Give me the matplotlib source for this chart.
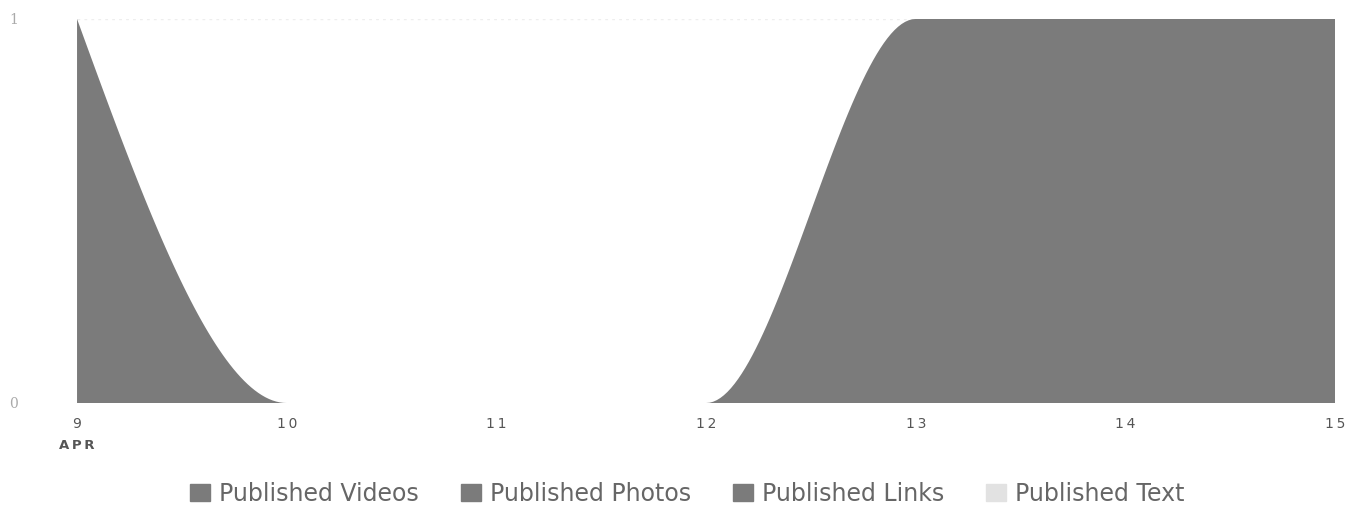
import numpy as np
import matplotlib
matplotlib.use("Agg")
import matplotlib.pyplot as plt
import matplotlib.patches as mpatches

plt.rcParams["font.family"] = ["DejaVu Sans"]

days = [9, 10, 11, 12, 13, 14, 15]
tick_labels = ["9", "10", "11", "12", "13", "14", "15"]
month_label = "APR"
videos = [0, 0, 0, 0, 0, 0, 0]
photos = [0, 0, 0, 0, 0, 0, 0]
links = [1, 0, 0, 0, 1, 1, 1]
text_posts = [0, 0, 0, 0, 0, 0, 0]
series_names = ["Published Videos", "Published Photos", "Published Links", "Published Text"]
series_colors = ["#7b7b7b", "#7b7b7b", "#7b7b7b", "#e2e2e2"]


def monotone_x(x, y, n=60):
    """d3.curveMonotoneX rendering of a polyline through (x, y)."""
    x = np.asarray(x, float)
    y = np.asarray(y, float)
    m = len(x)
    h = np.diff(x)
    s = np.diff(y) / h
    t = np.zeros(m)
    for i in range(1, m - 1):
        h0, h1 = h[i - 1], h[i]
        s0, s1 = s[i - 1], s[i]
        p = (s0 * h1 + s1 * h0) / (h0 + h1)
        t[i] = (np.sign(s0) + np.sign(s1)) * min(abs(s0), abs(s1), 0.5 * abs(p))
    t[0] = (3 * s[0] - t[1]) / 2
    t[-1] = (3 * s[-1] - t[-2]) / 2
    xs, ys = [], []
    u = np.linspace(0, 1, n)
    for i in range(m - 1):
        dx = (x[i + 1] - x[i]) / 3
        P0 = (x[i], y[i])
        P1 = (x[i] + dx, y[i] + dx * t[i])
        P2 = (x[i + 1] - dx, y[i + 1] - dx * t[i + 1])
        P3 = (x[i + 1], y[i + 1])
        bx = ((1 - u) ** 3) * P0[0] + 3 * ((1 - u) ** 2) * u * P1[0] + 3 * (1 - u) * u ** 2 * P2[0] + u ** 3 * P3[0]
        by = ((1 - u) ** 3) * P0[1] + 3 * ((1 - u) ** 2) * u * P1[1] + 3 * (1 - u) * u ** 2 * P2[1] + u ** 3 * P3[1]
        xs.append(bx if i == 0 else bx[1:])
        ys.append(by if i == 0 else by[1:])
    return np.concatenate(xs), np.concatenate(ys)


def spaced(s):
    return "\u2009".join(s)


fig = plt.figure(figsize=(13.61, 5.08), dpi=100)
ax = fig.add_axes([0.0566, 0.2067, 0.9245, 0.756])

cum = np.zeros(len(days))
for vals, color in zip([videos, photos, links, text_posts], series_colors):
    top = cum + np.asarray(vals, float)
    cx, lo = monotone_x(days, cum)
    _, hi = monotone_x(days, top)
    ax.fill_between(cx, lo, hi, where=(hi - lo) > 1e-9, color=color, linewidth=0, interpolate=True)
    cum = top

ax.set_xlim(days[0], days[-1])
ax.set_ylim(0, 1)
ax.axhline(1, color="#eeeeee", lw=1, ls=(0, (2, 3)), zorder=0)
for sp in ax.spines.values():
    sp.set_visible(False)
ax.set_xticks(days)
ax.set_xticklabels([spaced(s) for s in tick_labels])
ax.set_yticks([0, 1])
ax.set_yticklabels(["0", "1"])
ax.tick_params(axis="x", length=0, pad=10, labelsize=10, labelcolor="#555555")
ax.tick_params(axis="y", length=0, pad=49, labelsize=10, labelcolor="#aaaaaa")
for lab in ax.get_yticklabels():
    lab.set_fontfamily("DejaVu Serif")
    lab.set_horizontalalignment("left")
ax.text(days[0], -0.095, spaced(month_label), transform=ax.transData, ha="center", va="top",
        fontsize=9.5, fontweight="bold", color="#555555", clip_on=False)

handles = [mpatches.Patch(color=c, label=n) for n, c in zip(series_names, series_colors)]
fig.legend(handles=handles, loc="center", bbox_to_anchor=(0.505, 0.028), ncol=4, frameon=False,
           fontsize=17, handlelength=0.85, handleheight=0.75, handletextpad=0.4, columnspacing=1.75,
           labelcolor="#666666")

fig.savefig("out.png", dpi=100)
